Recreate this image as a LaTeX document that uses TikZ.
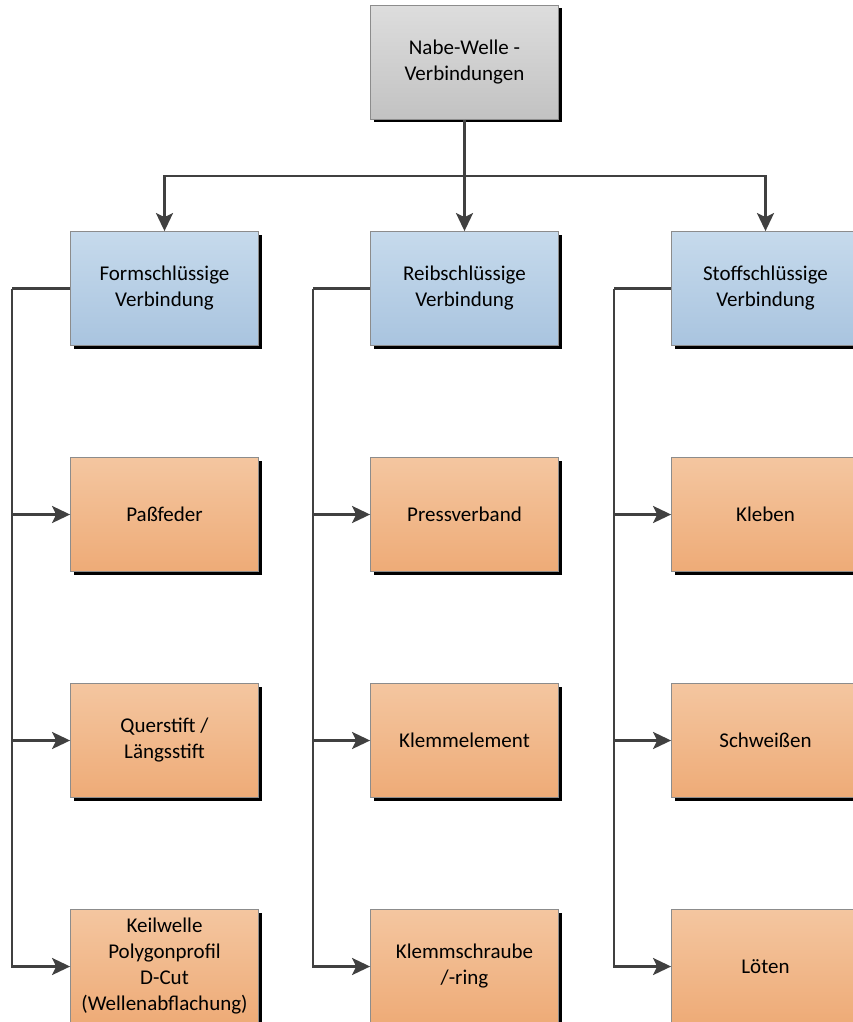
\documentclass[tikz,border=0pt]{standalone}
\usepackage{fontspec}
\setmainfont{Carlito}
\usepackage{tikz}
\usetikzlibrary{shapes}
\usetikzlibrary{arrows.meta}
\usetikzlibrary{positioning}
\usetikzlibrary{shadows}

\definecolor{linegray}{HTML}{404040}
\definecolor{bordergray}{HTML}{8C8C8C}
\definecolor{graytop}{HTML}{DDDDDD}
\definecolor{graybot}{HTML}{C2C2C2}
\definecolor{bluetop}{HTML}{C6DAEC}
\definecolor{bluebot}{HTML}{A9C4DF}
\definecolor{orangetop}{HTML}{F4C6A0}
\definecolor{orangebot}{HTML}{EEAB77}

\tikzset{
  box/.style={draw=bordergray, line width=0.8pt, minimum width=188pt, minimum height=114pt,
    inner sep=2pt, align=center, font=\fontsize{21}{26}\selectfont,
    drop shadow={shadow xshift=3pt, shadow yshift=-3pt, fill=black, opacity=1}},
  topbox/.style={box, top color=graytop, bottom color=graybot},
  groupbox/.style={box, top color=bluetop, bottom color=bluebot},
  itembox/.style={box, top color=orangetop, bottom color=orangebot},
  conn/.style={draw=linegray, line width=2.5pt},
  arrow/.style={conn, -{Stealth[length=18pt, width=17pt, inset=4pt]}}
}

\begin{document}
\begin{tikzpicture}[x=1pt, y=-1pt, node distance=226pt]
        \useasboundingbox (0,0) rectangle (852,1022);

        \node [topbox] (nabe) at (464.5,62.5) {Nabe-Welle -\\Verbindungen};

        \node [groupbox, below of=nabe] (reib) {Reibschlüssige\\Verbindung};
        \node [groupbox, left of=reib, node distance=300pt] (form) {Formschlüssige\\Verbindung};
        \node [groupbox, right of=reib, node distance=301pt] (stoff) {Stoffschlüssige\\Verbindung};

        \node [itembox, below of=form] (pass) {Paßfeder};
        \node [itembox, below of=pass] (quer) {Querstift /\\Längsstift};
        \node [itembox, below of=quer] (keil) {Keilwelle\\Polygonprofil\\D-Cut\\(Wellenabflachung)};

        \node [itembox, below of=reib] (press) {Pressverband};
        \node [itembox, below of=press] (klemm) {Klemmelement};
        \node [itembox, below of=klemm] (schraube) {Klemmschraube\\/-ring};

        \node [itembox, below of=stoff] (kleben) {Kleben};
        \node [itembox, below of=kleben] (schweiss) {Schweißen};
        \node [itembox, below of=schweiss] (loeten) {Löten};

        % verteilung oben
        \coordinate (split) at (464.5,176);
        \draw [conn] (nabe) -- (split);
        \draw [arrow] (split) -| (form);
        \draw [arrow] (split) -- (reib);
        \draw [arrow] (split) -| (stoff);

        % seitliche schienen
        \draw [conn] (form.west) -- ++(-58,0) coordinate (formbus);
        \draw [arrow] (formbus) |- (pass);
        \draw [arrow] (formbus) |- (quer);
        \draw [arrow] (formbus) |- (keil);

        \draw [conn] (reib.west) -- ++(-57,0) coordinate (reibbus);
        \draw [arrow] (reibbus) |- (press);
        \draw [arrow] (reibbus) |- (klemm);
        \draw [arrow] (reibbus) |- (schraube);

        \draw [conn] (stoff.west) -- ++(-57,0) coordinate (stoffbus);
        \draw [arrow] (stoffbus) |- (kleben);
        \draw [arrow] (stoffbus) |- (schweiss);
        \draw [arrow] (stoffbus) |- (loeten);
    \end{tikzpicture}
\end{document}
